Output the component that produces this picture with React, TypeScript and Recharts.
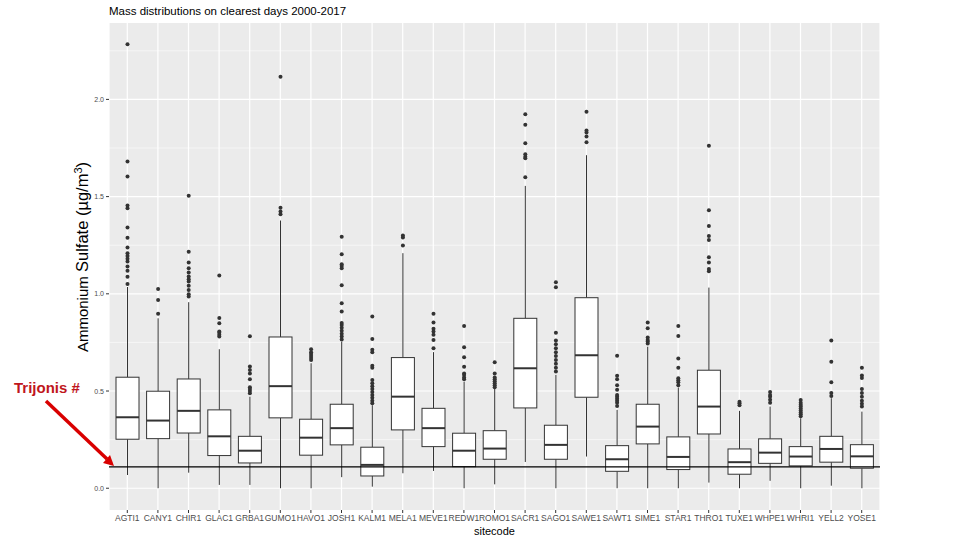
import { ComposedChart, Bar, XAxis, YAxis, CartesianGrid, ReferenceLine } from "recharts";

const sites = [
  "AGTI1", "CANY1", "CHIR1", "GLAC1", "GRBA1", "GUMO1", "HAVO1", "JOSH1", "KALM1",
  "MELA1", "MEVE1", "REDW1", "ROMO1", "SACR1", "SAGO1", "SAWE1", "SAWT1", "SIME1",
  "STAR1", "THRO1", "TUXE1", "WHPE1", "WHRI1", "YELL2", "YOSE1",
];

const lowWhisker = [
  0.068, 0.0, 0.08, 0.017, 0.017, 0.0, 0.0, 0.057, 0.008, 0.077, 0.089, 0.0, 0.02,
  0.135, 0.0, 0.163, 0.0, 0.0, 0.0, 0.029, 0.0, 0.038, 0.0, 0.013, 0.0,
];
const q1 = [
  0.252, 0.255, 0.284, 0.168, 0.13, 0.362, 0.17, 0.223, 0.063, 0.3, 0.214, 0.111, 0.149,
  0.413, 0.149, 0.468, 0.087, 0.228, 0.096, 0.279, 0.072, 0.128, 0.115, 0.134, 0.103,
];
const median = [
  0.365, 0.348, 0.398, 0.267, 0.193, 0.525, 0.26, 0.309, 0.12, 0.471, 0.309, 0.193, 0.204,
  0.617, 0.223, 0.684, 0.149, 0.317, 0.161, 0.42, 0.134, 0.183, 0.163, 0.202, 0.164,
];
const q3 = [
  0.571, 0.499, 0.562, 0.403, 0.267, 0.778, 0.355, 0.432, 0.211, 0.672, 0.411, 0.283, 0.296,
  0.874, 0.324, 0.98, 0.219, 0.432, 0.264, 0.607, 0.202, 0.254, 0.214, 0.267, 0.224,
];
const highWhisker = [
  1.035, 0.874, 0.957, 0.715, 0.471, 1.377, 0.643, 0.754, 0.427, 1.209, 0.7, 0.548, 0.514,
  1.555, 0.583, 1.713, 0.403, 0.728, 0.518, 1.032, 0.398, 0.42, 0.36, 0.463, 0.394,
];
const outliers: number[][] = [
  [1.051, 1.088, 1.119, 1.14, 1.166, 1.18, 1.195, 1.209, 1.238, 1.289, 1.341, 1.44, 1.454, 1.603, 1.68, 2.284],
  [0.897, 0.968, 1.025],
  [0.986, 0.998, 1.02, 1.041, 1.063, 1.075, 1.089, 1.109, 1.132, 1.161, 1.216, 1.505],
  [0.78, 0.79, 0.8, 0.806, 0.849, 0.876, 1.094],
  [0.489, 0.5, 0.51, 0.52, 0.561, 0.59, 0.608, 0.626, 0.782],
  [1.409, 1.423, 1.443, 2.116],
  [0.66, 0.67, 0.68, 0.69, 0.7, 0.715],
  [0.765, 0.78, 0.795, 0.81, 0.825, 0.84, 0.85, 0.909, 0.951, 1.044, 1.132, 1.143, 1.152, 1.203, 1.293],
  [0.437, 0.45, 0.465, 0.48, 0.495, 0.51, 0.525, 0.54, 0.557, 0.62, 0.63, 0.7, 0.712, 0.768, 0.883],
  [1.248, 1.29, 1.3],
  [0.72, 0.763, 0.79, 0.806, 0.82, 0.852, 0.897],
  [0.56, 0.57, 0.583, 0.59, 0.625, 0.674, 0.725, 0.835],
  [0.52, 0.53, 0.54, 0.55, 0.56, 0.57, 0.59, 0.648],
  [1.6, 1.697, 1.705, 1.718, 1.775, 1.869, 1.924],
  [0.6, 0.62, 0.64, 0.66, 0.68, 0.7, 0.72, 0.74, 0.76, 0.8, 1.034, 1.06],
  [1.78, 1.809, 1.83, 1.84, 1.936],
  [0.423, 0.44, 0.45, 0.46, 0.47, 0.48, 0.506, 0.53, 0.56, 0.578, 0.682],
  [0.745, 0.755, 0.763, 0.775, 0.823, 0.852],
  [0.53, 0.545, 0.556, 0.566, 0.62, 0.667, 0.783, 0.835],
  [1.116, 1.127, 1.161, 1.188, 1.277, 1.298, 1.349, 1.43, 1.761],
  [0.427, 0.437, 0.445],
  [0.44, 0.455, 0.47, 0.48, 0.495],
  [0.37, 0.38, 0.39, 0.4, 0.41, 0.42, 0.43, 0.44, 0.454],
  [0.475, 0.49, 0.545, 0.65, 0.76],
  [0.42, 0.435, 0.45, 0.47, 0.49, 0.51, 0.567, 0.58, 0.62],
];

const trijonis = 0.11;
const majorTicks = [0, 0.5, 1, 1.5, 2];
const minorTicks = [0.25, 0.75, 1.25, 1.75, 2.25];

const data = sites.map((site, i) => ({
  site,
  range: [lowWhisker[i], highWhisker[i]],
  lo: lowWhisker[i],
  q1: q1[i],
  med: median[i],
  q3: q3[i],
  hi: highWhisker[i],
  out: outliers[i],
}));

const INK = "#333333";

// box drawn inside the whisker-range bar; inner values mapped linearly on the bar's own extent
function BoxShape(props: any) {
  const { x, y, width, height } = props;
  const d = props.payload ?? props;
  if (x == null || y == null) return null;
  const top = Math.min(y, y + height);
  const bottom = Math.max(y, y + height);
  const py = (v: number) => bottom - ((v - d.lo) / (d.hi - d.lo)) * (bottom - top);
  const cx = x + width / 2;
  return (
    <g>
      <line x1={cx} x2={cx} y1={py(d.lo)} y2={py(d.q1)} stroke={INK} strokeWidth={1} />
      <line x1={cx} x2={cx} y1={py(d.q3)} y2={py(d.hi)} stroke={INK} strokeWidth={1} />
      <rect
        x={x}
        y={py(d.q3)}
        width={width}
        height={py(d.q1) - py(d.q3)}
        fill="#ffffff"
        stroke={INK}
        strokeWidth={1}
      />
      <line x1={x} x2={x + width} y1={py(d.med)} y2={py(d.med)} stroke={INK} strokeWidth={2} />
      {d.out.map((v: number, k: number) => (
        <circle key={k} cx={cx} cy={py(v)} r={2} fill={INK} />
      ))}
    </g>
  );
}

export default function App() {
  return (
    <div style={{ position: "absolute", left: 0, top: 0, width: 960, height: 540, background: "#fff" }}>
      <ComposedChart
        width={960}
        height={540}
        data={data}
        margin={{ top: 23, right: 80, bottom: 0, left: 79 }}
      >
        <CartesianGrid
          fill="#EBEBEB"
          stroke="#FFFFFF"
          strokeWidth={1.2}
          horizontalValues={majorTicks}
        />
        <CartesianGrid
          stroke="#FFFFFF"
          strokeWidth={0.55}
          vertical={false}
          horizontalValues={minorTicks}
        />
        <XAxis
          dataKey="site"
          interval={0}
          padding={{ left: 3, right: 3 }}
          height={30}
          axisLine={false}
          tickLine={{ stroke: INK }}
          tickSize={3}
          tickMargin={2}
          tick={{ fontSize: 8.5, fill: "#4D4D4D", fontFamily: "Liberation Sans, Arial, sans-serif" }}
          label={{
            value: "sitecode",
            position: "insideBottom",
            offset: 5,
            fontSize: 11,
            fill: "#000",
            fontFamily: "Liberation Sans, Arial, sans-serif",
          }}
        />
        <YAxis
          type="number"
          domain={[-0.112, 2.393]}
          allowDataOverflow
          ticks={majorTicks}
          tickFormatter={(v: number) => v.toFixed(1)}
          width={30}
          axisLine={false}
          tickLine={{ stroke: INK }}
          tickSize={3}
          tickMargin={2}
          tick={{ fontSize: 7, fill: "#4D4D4D", fontFamily: "Liberation Sans, Arial, sans-serif" }}
        />
        <Bar dataKey="range" barSize={23} isAnimationActive={false} shape={(p: any) => <BoxShape {...p} />} />
        <ReferenceLine y={trijonis} stroke="#000" strokeWidth={1.3} zIndex={700} />
      </ComposedChart>

      <svg
        width={960}
        height={540}
        style={{ position: "absolute", left: 0, top: 0, pointerEvents: "none" }}
      >
        <text x={109} y={15} fontSize={11.5} fill="#000" fontFamily="Liberation Sans, Arial, sans-serif">
          Mass distributions on clearest days 2000-2017
        </text>
        <text
          transform="translate(88,257) rotate(-90)"
          textAnchor="middle"
          fill="#000"
          fontFamily="Liberation Sans, Arial, sans-serif"
        >
          <tspan fontSize={15}>Ammonium </tspan>
          <tspan fontSize={16.5}>Sulfate (µg/m</tspan>
          <tspan fontSize={11} dy={-6}>3</tspan>
          <tspan fontSize={16.5} dy={6}>)</tspan>
        </text>
        <text x={14} y={393} fontSize={15} fontWeight="bold" fill="#C0161C" fontFamily="Liberation Sans, Arial, sans-serif">
          Trijonis #
        </text>
        <line x1={46} y1={401} x2={107} y2={459} stroke="#D90000" strokeWidth={3.5} />
        <polygon points="114,466 103,463 110,455" fill="#D90000" />
      </svg>
    </div>
  );
}
